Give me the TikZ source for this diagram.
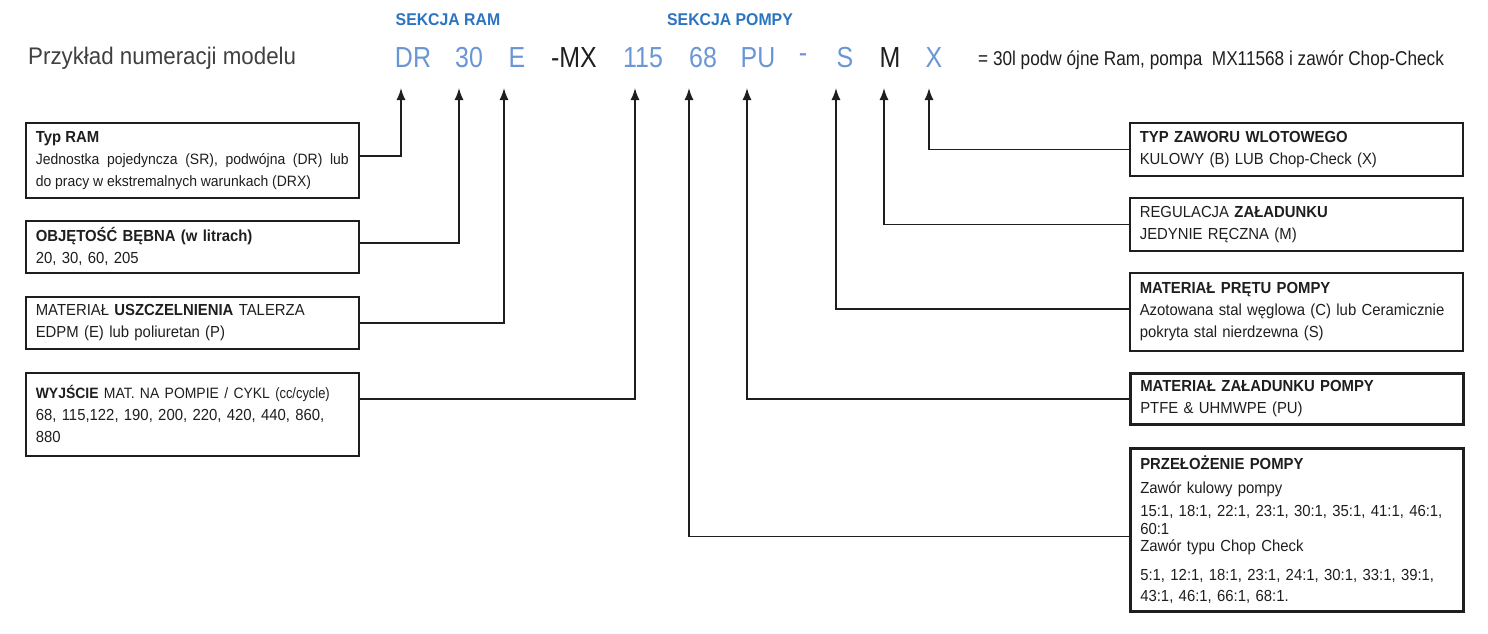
\documentclass[tikz,border=0pt]{standalone}
\usepackage{fontspec}
\setmainfont[FakeStretch=0.93]{Liberation Sans}
\newfontfamily\narrowfont[FakeStretch=0.86]{Liberation Sans}
\usepackage{tikz}
\usetikzlibrary{arrows.meta, positioning, calc}
\usepackage{xcolor}
\definecolor{codeblue}{HTML}{6A96D6}
\definecolor{sekblue}{HTML}{2B74C2}
\definecolor{ink}{HTML}{1E1E1E}
\tikzset{
	infobox/.style={draw=ink, line width=1.6pt, anchor=north west, minimum width=333pt,
		text width=313pt, inner xsep=10pt, inner ysep=0pt, align=left, text=ink,
		font=\fontsize{16}{22}\selectfont},
	thickbox/.style={infobox, line width=2.6pt},
	code/.style={font=\narrowfont\fontsize{29}{30}\selectfont, text=codeblue, inner sep=0pt},
	sekcja/.style={font=\bfseries\fontsize{17}{18}\selectfont, text=sekblue, inner sep=0pt},
	conn/.style={draw=ink, line width=1.5pt, -{Latex[length=12pt,width=9pt]}}
}

\begin{document}
\begin{tikzpicture}[x=1pt,y=-1pt]
	\useasboundingbox (0,0) rectangle (1488,633);
	% Heading
	\node[anchor=west, inner sep=0pt, text=ink!85, font=\fontsize{24}{26}\selectfont] (title) at (28,58) {Przykład numeracji modelu};
	\node[sekcja] (sramu) at (448,20) {SEKCJA RAM};
	\node[sekcja] (spompy) at (730,20) {SEKCJA POMPY};
	% Model code
	\foreach \n/\x/\t in {DR/413/DR, 30/469/30, E/517/E, 115/643/115, 68/703/68, PU/758/PU, dash/803/-, S/845/S, X/934/X}
		\node[code] (c-\n) at (\x,58) {\t};
	\node[code, text=ink] (c-MX) at (574,58) {-MX};
	\node[code, text=ink] (c-M) at (890,58) {M};
	\node[anchor=west, inner sep=0pt, text=ink, font=\narrowfont\fontsize{20}{22}\selectfont] (eq) at (978,60) {= 30l podw ójne Ram, pompa~ MX11568 i zawór Chop-Check};
	% Arrow tips
	\coordinate (t-DR) at (401,88);
	\coordinate (t-30) at (459,88);
	\coordinate (t-E) at (504,88);
	\coordinate (t-115) at (635,88);
	\coordinate (t-68) at (689,88);
	\coordinate (t-PU) at (747,88);
	\coordinate (t-S) at (836,88);
	\coordinate (t-M) at (884,88);
	\coordinate (t-X) at (929,88);
	% Left boxes
	\node[infobox, minimum height=75pt, align=justify] (ram) at (25,122) {\textbf{Typ RAM}\\
		{\fontsize{15}{22}\selectfont Jednostka pojedyncza (SR), podwójna (DR) lub\linebreak do pracy w ekstremalnych warunkach (DRX)}};
	\node[infobox, minimum height=52pt] (obj) at (25,220) {\textbf{OBJĘTOŚĆ BĘBNA (w litrach)}\\20, 30, 60, 205};
	\node[infobox, minimum height=52pt] (usz) at (25,296) {MATERIAŁ \textbf{USZCZELNIENIA} TALERZA\\EDPM (E) lub poliuretan (P)};
	\node[infobox, minimum height=83pt] (wyj) at (25,372) {{\fontsize{15}{22}\selectfont\textbf{WYJŚCIE} MAT. NA POMPIE / CYKL {\narrowfont(cc/cycle)}}\\
		68, 115,122, 190, 200, 220, 420, 440, 860,\\880};
	% Right boxes
	\node[infobox, minimum height=53pt] (zaw) at (1129,122) {\textbf{TYP ZAWORU WLOTOWEGO}\\KULOWY (B) LUB Chop-Check (X)};
	\node[infobox, minimum height=53pt] (reg) at (1129,197) {REGULACJA \textbf{ZAŁADUNKU}\\JEDYNIE RĘCZNA (M)};
	\node[infobox, minimum height=78pt] (pret) at (1129,272) {\textbf{MATERIAŁ PRĘTU POMPY}\\
		Azotowana stal węglowa (C) lub Ceramicznie\\pokryta stal nierdzewna (S)};
	\node[thickbox, minimum height=51pt] (zal) at (1129,372) {\textbf{MATERIAŁ ZAŁADUNKU POMPY}\\PTFE \& UHMWPE (PU)};
	\node[thickbox, minimum height=163pt] (prz) at (1129,447) {\textbf{PRZEŁOŻENIE POMPY}\\[2pt]
		Zawór kulowy pompy\\[1pt]
		15:1, 18:1, 22:1, 23:1, 30:1, 35:1, 41:1, 46:1,\\[-4pt]
		60:1\\[-5pt]
		Zawór typu Chop Check\\[7pt]
		5:1, 12:1, 18:1, 23:1, 24:1, 30:1, 33:1, 39:1,\\[-1pt]
		43:1, 46:1, 66:1, 68:1.};
	% Connections
	\draw[conn] ([yshift=4.5pt]ram.east) -| (t-DR);
	\draw[conn] ([yshift=4pt]obj.east) -| (t-30);
	\draw[conn] (usz.east) -| (t-E);
	\draw[conn] ([yshift=15.5pt]wyj.east) -| (t-115);
	\draw[conn] (zaw.west) -| (t-X);
	\draw[conn] (reg.west) -| (t-M);
	\draw[conn] ([yshift=3pt]pret.west) -| (t-S);
	\draw[conn] (zal.west) -| (t-PU);
	\draw[conn] ([yshift=-6.5pt]prz.west) -| (t-68);
\end{tikzpicture}
\end{document}
